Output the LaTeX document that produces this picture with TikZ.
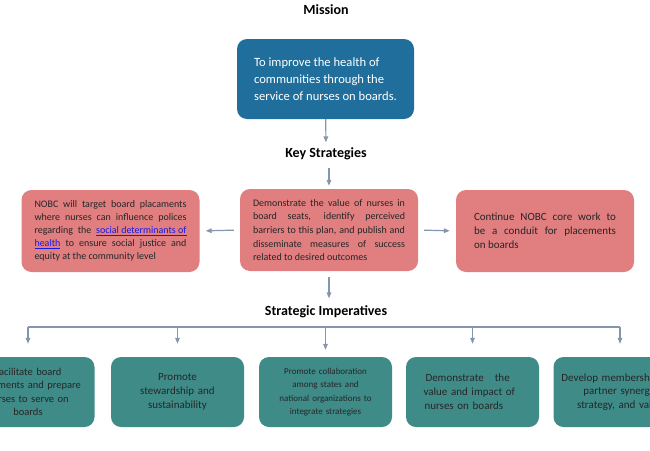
\documentclass[tikz,border=0pt]{standalone}
\usepackage{fontspec}
\setmainfont{Carlito}
\usepackage{xcolor}
\usetikzlibrary{
arrows.meta,
positioning
}
\definecolor{missionblue}{HTML}{1F6E9C}
\definecolor{stratpink}{HTML}{E07E80}
\definecolor{impteal}{HTML}{3F8B88}
\definecolor{linkgray}{HTML}{8496AE}
\definecolor{urlblue}{HTML}{1A1AE6}
\newcommand{\weblink}[1]{{\color{urlblue}\underline{#1}}}

\begin{document}
\begin{tikzpicture}[
    x=1pt, y=-1pt,
    >={Triangle[angle=45:6pt,length=6pt]},
    heading/.style={font=\fontsize{14}{16}\selectfont\bfseries},
    box/.style={rounded corners=10pt, inner ysep=0pt},
    missionbox/.style={box, fill=missionblue, text=white, minimum height=80pt,
      minimum width=177pt, align=left,
      font=\fontsize{12.6}{17.3}\selectfont},
    stratbox/.style={box, fill=stratpink, text=black!85, minimum height=82pt,
      text width=152pt, inner xsep=13pt, align=justify,
      font=\fontsize{10}{13.6}\selectfont},
    impbox/.style={box, fill=impteal, text=black!85, minimum height=70pt,
      minimum width=133pt, text width=115pt, align=center,
      font=\fontsize{10.5}{13.5}\selectfont},
    link/.style={->, draw=linkgray, line width=1.2pt},
    barline/.style={draw=linkgray, line width=1.2pt}]
  \useasboundingbox (0,0) rectangle (650,450);
  \clip (0,0) rectangle (650,450);

  % mission and key strategies
  \node[heading] (title) at (326,10) {Mission};
  \node[missionbox] (mission) at (325.5,79)
    {To improve the health of\\ communities through the\\ service of nurses on boards.};
  \node[heading] (keys) at (326,154) {Key Strategies};

  \node[stratbox] (demo) at (329,230)
    {Demonstrate the value of nurses in\linebreak board seats, identify perceived\linebreak
     barriers to this plan, and publish and\linebreak disseminate measures of success\linebreak
     related to desired outcomes};
  \node[stratbox, font=\fontsize{10}{13}\selectfont] (target) at (110.5,231)
    {NOBC will target board placaments\linebreak where nurses can influence polices\linebreak
     regarding the \weblink{social determinants of}\linebreak
     \weblink{health} to ensure social justice and\linebreak
     equity at the community level};
  \node[stratbox, text width=142pt, inner xsep=18pt, font=\fontsize{11}{14}\selectfont]
    (core) at (545,231)
    {Continue NOBC core work to\linebreak be a conduit for placements\linebreak on boards};

  % strategic imperatives
  \node[heading] (imper) at (326,312) {Strategic Imperatives};
  \node[impbox] (imp1) at (28,392) {Facilitate board\\ placements and prepare\\ nurses to serve on\\ boards};
  \node[impbox, font=\fontsize{11}{13.8}\selectfont] (imp2) at (177.5,392)
    {Promote\\ stewardship and\\ sustainability};
  \node[impbox, font=\fontsize{9}{13.5}\selectfont] (imp3) at (325.5,392)
    {Promote collaboration\\ among states and\\ national organizations to\\ integrate strategies};
  \node[impbox, text width=98pt, align=left, font=\fontsize{11}{13.8}\selectfont] (imp4) at (472.5,392)
    {\hspace*{2pt}Demonstrate\ \ \ the\\ value and impact of\\ \hspace*{1pt}nurses on boards};
  \node[impbox, text width=128pt, inner xsep=2pt, font=\fontsize{11}{13.8}\selectfont] (imp5) at (620,392)
    {Develop membership and\\ partner synergy,\\ strategy, and value};

  % connectors
  \draw[link, shorten >=2pt] (mission) -- (keys);
  \draw[link, shorten <=4pt, shorten >=3pt] (keys.south -| demo.north) -- (demo.north);
  \draw[link, shorten <=6pt, shorten >=6pt] (demo.west) -- (target.east);
  \draw[link, shorten <=6pt, shorten >=6pt] (demo.east) -- (core.west);
  \draw[link, shorten <=6pt, shorten >=4pt] (demo.south) -- (demo.south |- imper.north);
  \coordinate (bar) at (326,327);
  \draw[barline] (imp1.north |- bar) -- (imp5.north |- bar);
  \foreach \i in {1,2,4,5}
    \draw[link, shorten >=13pt] (imp\i.north |- bar) -- (imp\i.north);
  \draw[link, shorten >=7pt] (imp3.north |- bar) -- (imp3.north);
\end{tikzpicture}
\end{document}
